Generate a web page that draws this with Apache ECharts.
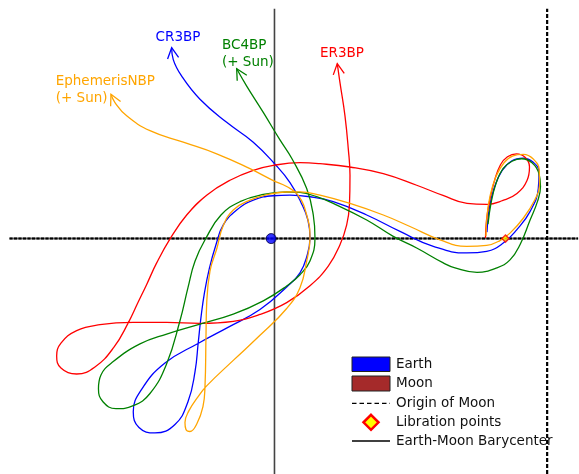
<!DOCTYPE html>
<html>
<head>
<meta charset="utf-8">
<script src="https://cdn.jsdelivr.net/npm/echarts@6/dist/echarts.min.js"></script>
<style>
html, body { margin: 0; padding: 0; background: #fff; }
#chart { width: 579px; height: 474px; }
</style>
</head>
<body>
<div id="chart"></div>
<script>
// Earth-Moon rotating frame, nondimensional units (Earth-Moon distance = 1)
const MU = 0.01215;
const earthPos = [[-MU, 0]];
const moonOriginX = 1 - MU;
const librationPoints = [[0.8369, 0]];

// Trajectories, from the lunar loop outwards
const cr3bp = [
  [0.7699,0.0236],[0.7772,0.1033],[0.7953,0.1830],[0.8243,0.2482],[0.8605,0.2844],[0.9004,0.2942],
  [0.9366,0.2797],[0.9583,0.2435],[0.9558,0.1830],[0.9257,0.0986],[0.8775,0.0319],[0.8290,-0.0163],
  [0.7688,-0.0464],[0.6964,-0.0525],[0.5754,-0.0283],[0.4547,0.0261],[0.3341,0.0862],[0.2130,0.1348],
  [0.1286,0.1529],[0.0562,0.1587],[-0.0043,0.1565],[-0.0768,0.1406],[-0.1370,0.1043],[-0.1855,0.0500],
  [-0.2120,-0.0225],[-0.2355,-0.1069],[-0.2536,-0.1975],[-0.2663,-0.2880],[-0.2761,-0.3786],[-0.2880,-0.4873],
  [-0.3134,-0.5960],[-0.3605,-0.6793],[-0.4330,-0.7101],[-0.4909,-0.6902],[-0.5116,-0.6322],[-0.4801,-0.5489],
  [-0.3967,-0.4547],[-0.2754,-0.3822],[-0.1685,-0.3243],[-0.0525,-0.2591],[0.0453,-0.1757],[0.0924,-0.1250],
  [0.1178,-0.0634],[0.1286,0.0018],[0.1214,0.0670],[0.0960,0.1322],[0.0562,0.2047],[0.0018,0.2717],
  [-0.0768,0.3522],[-0.1732,0.4246],[-0.2699,0.5091],[-0.3362,0.5935],[-0.3667,0.6540],[-0.3725,0.6975]
];
const bc4bp = [
  [0.7736,0.0525],[0.7844,0.1286],[0.8025,0.2011],[0.8279,0.2554],[0.8605,0.2826],[0.8957,0.2917],
  [0.9330,0.2772],[0.9583,0.2373],[0.9638,0.1902],[0.9529,0.1359],[0.9257,0.0670],[0.8895,-0.0225],
  [0.8533,-0.0779],[0.8062,-0.1069],[0.7337,-0.1232],[0.6540,-0.1069],[0.6116,-0.0888],[0.5152,-0.0344],
  [0.4304,0.0080],[0.3341,0.0681],[0.2130,0.1286],[0.1529,0.1529],[0.0924,0.1685],[0.0442,0.1703],
  [-0.0406,0.1612],[-0.1250,0.1348],[-0.1938,0.0862],[-0.2482,0.0018],[-0.2880,-0.0826],[-0.3134,-0.1793],
  [-0.3424,-0.3000],[-0.3906,-0.4572],[-0.4511,-0.5659],[-0.5116,-0.6105],[-0.5743,-0.6214],[-0.6214,-0.5960],
  [-0.6377,-0.5489],[-0.6286,-0.4982],[-0.5841,-0.4493],[-0.4873,-0.3848],[-0.3906,-0.3486],[-0.2699,-0.3123],
  [-0.1493,-0.2761],[-0.0406,-0.2275],[0.0442,-0.1732],[0.0924,-0.1322],[0.1286,-0.0815],[0.1467,0.0018],
  [0.1406,0.0862],[0.1167,0.1830],[0.0634,0.2917],[0.0199,0.3605],[-0.0406,0.4609],[-0.1007,0.5572],
  [-0.1370,0.6203]
];
const er3bp = [
  [0.7645,0.0018],[0.7681,0.0670],[0.7790,0.1359],[0.7971,0.2120],[0.8188,0.2699],[0.8442,0.2989],
  [0.8768,0.3098],[0.9076,0.2971],[0.9239,0.2627],[0.9149,0.2120],[0.8786,0.1649],[0.8279,0.1395],
  [0.7699,0.1250],[0.6975,0.1286],[0.6105,0.1576],[0.5152,0.1949],[0.3942,0.2373],[0.2736,0.2616],
  [0.1649,0.2736],[0.0924,0.2772],[-0.0043,0.2674],[-0.0768,0.2493],[-0.1612,0.2130],[-0.2457,0.1587],
  [-0.3181,0.0862],[-0.3768,0.0018],[-0.4268,-0.0888],[-0.4630,-0.1674],[-0.4946,-0.2337],[-0.5308,-0.3098],
  [-0.5815,-0.3967],[-0.6504,-0.4692],[-0.7167,-0.4946],[-0.7736,-0.4728],[-0.7891,-0.4293],[-0.7736,-0.3822],
  [-0.7167,-0.3362],[-0.6322,-0.3145],[-0.5116,-0.3062],[-0.3906,-0.3062],[-0.2699,-0.3098],[-0.1493,-0.3025],
  [-0.0525,-0.2772],[0.0442,-0.2337],[0.1286,-0.1721],[0.1949,-0.1007],[0.2373,-0.0225],[0.2616,0.0500],
  [0.2717,0.1250],[0.2736,0.2312],[0.2674,0.3279],[0.2554,0.4486],[0.2373,0.5696],[0.2275,0.6395]
];
const ephemeris = [
  [0.7663,0.0091],[0.7699,0.0815],[0.7808,0.1540],[0.8025,0.2264],[0.8315,0.2772],[0.8641,0.3025],
  [0.9014,0.3080],[0.9366,0.2917],[0.9594,0.2482],[0.9601,0.1938],[0.9438,0.1431],[0.9014,0.0743],
  [0.8533,0.0199],[0.8170,-0.0072],[0.7688,-0.0246],[0.6964,-0.0283],[0.5996,-0.0043],[0.4909,0.0442],
  [0.3942,0.0862],[0.2736,0.1286],[0.1649,0.1587],[0.0924,0.1710],[0.0380,0.1703],[-0.0236,0.1612],
  [-0.0888,0.1406],[-0.1493,0.1043],[-0.1866,0.0453],[-0.2083,-0.0344],[-0.2337,-0.1188],[-0.2457,-0.2399],
  [-0.2482,-0.3605],[-0.2518,-0.5417],[-0.2591,-0.6141],[-0.2808,-0.6757],[-0.3062,-0.7047],[-0.3207,-0.6975],
  [-0.3243,-0.6721],[-0.3098,-0.6286],[-0.2772,-0.5779],[-0.2457,-0.5380],[-0.1493,-0.4449],[-0.0525,-0.3533],
  [0.0442,-0.2554],[0.0924,-0.1793],[0.1167,-0.0826],[0.1286,0.0018],[0.1167,0.0862],[0.0862,0.1576],
  [0.0442,0.1902],[-0.0043,0.2120],[-0.0888,0.2554],[-0.2094,0.3098],[-0.3304,0.3522],[-0.4511,0.3942],
  [-0.5355,0.4486],[-0.5779,0.4971],[-0.5924,0.5272]
];

const X_MIN = -0.96, X_MAX = 1.1, Y_MIN = -0.86, Y_MAX = 0.84;
const FONT = 'DejaVu Sans';
const FS = 13.5;

const trajectories = [
  { name: 'CR3BP', data: cr3bp, color: '#0000ff' },
  { name: 'ER3BP', data: er3bp, color: '#ff0000' },
  { name: 'BC4BP', data: bc4bp, color: '#008000' },
  { name: 'EphemerisNBP', data: ephemeris, color: '#ffa500' }
];

function lineSeries(data, color, width, type, z) {
  return {
    type: 'line', data: data, showSymbol: false, silent: true, z: z,
    lineStyle: { color: color, width: width, type: type }
  };
}

// open "->" arrowhead at the final point of a trajectory
function arrowHead(pts, color) {
  const n = pts.length;
  const tip = pts[n - 1], prev = pts[n - 2];
  return {
    type: 'custom', coordinateSystem: 'cartesian2d', silent: true, z: 6,
    data: [[tip[0], tip[1], prev[0], prev[1]]],
    renderItem: function (params, api) {
      const t = api.coord([api.value(0), api.value(1)]);
      const p = api.coord([api.value(2), api.value(3)]);
      const ang = Math.atan2(t[1] - p[1], t[0] - p[0]);
      const L = 12, a = 0.48;
      const a1 = [t[0] - L * Math.cos(ang - a), t[1] - L * Math.sin(ang - a)];
      const a2 = [t[0] - L * Math.cos(ang + a), t[1] - L * Math.sin(ang + a)];
      return {
        type: 'polyline',
        shape: { points: [a1, t, a2] },
        style: { stroke: color, lineWidth: 1.3, fill: null }
      };
    }
  };
}

const series = [];
// Earth-Moon barycenter axes and lunar origin
series.push(lineSeries([[X_MIN, 0], [X_MAX, 0]], '#666', 2, 'solid', 1));
series.push(lineSeries([[X_MIN, 0], [X_MAX, 0]], '#000', 2, [3, 1.5], 2));
series.push(lineSeries([[0, Y_MIN], [0, Y_MAX]], '#444', 1.6, 'solid', 1));
series.push(lineSeries([[moonOriginX, Y_MIN], [moonOriginX, Y_MAX]], '#000', 2.2, [4, 2], 2));

trajectories.forEach(function (t, i) {
  const s = lineSeries(t.data, t.color, 1.3, 'solid', 3 + i * 0.1);
  s.smooth = 0.45;
  series.push(s);
  series.push(arrowHead(t.data, t.color));
});

series.push({
  type: 'scatter', data: earthPos, symbol: 'circle', symbolSize: 10, silent: true, z: 8,
  itemStyle: { color: '#0000ff', borderColor: '#000040', borderWidth: 1 }
});
series.push({
  type: 'scatter', data: librationPoints, symbol: 'diamond', symbolSize: 7, silent: true, z: 8,
  itemStyle: { color: '#ffff00', borderColor: '#ff0000', borderWidth: 1.5 }
});

function label(text, x, y, color, align) {
  return {
    type: 'text', x: x, y: y, z: 10,
    style: {
      text: text, fill: color, font: FS + 'px "' + FONT + '"',
      textAlign: align, textVerticalAlign: 'top', lineHeight: 16.6
    }
  };
}

const legendX = 352, legendW = 38, legendTextX = 396;
const legendItems = [
  { text: 'Earth', y: 364.3 },
  { text: 'Moon', y: 383.3 },
  { text: 'Origin of Moon', y: 403.3 },
  { text: 'Libration points', y: 422.3 },
  { text: 'Earth-Moon Barycenter', y: 441 }
];

const graphic = [
  label('CR3BP', 178, 28.7, '#0000ff', 'center'),
  label('BC4BP\n(+ Sun)', 222, 37.4, '#008000', 'left'),
  label('EphemerisNBP\n(+ Sun)', 55.7, 73.4, '#ffa500', 'left'),
  label('ER3BP', 342, 45, '#ff0000', 'center'),
  { type: 'rect', shape: { x: legendX, y: 357, width: legendW, height: 14.5 },
    style: { fill: '#0000ff', stroke: '#222', lineWidth: 1 }, z: 10 },
  { type: 'rect', shape: { x: legendX, y: 376, width: legendW, height: 15 },
    style: { fill: '#a52a2a', stroke: '#222', lineWidth: 1 }, z: 10 },
  { type: 'line', shape: { x1: legendX, y1: 403.3, x2: legendX + legendW, y2: 403.3 },
    style: { stroke: '#000', lineWidth: 1.3, lineDash: [4.5, 3] }, z: 10 },
  { type: 'polygon', shape: { points: [[371, 414.8], [378.5, 422.3], [371, 429.8], [363.5, 422.3]] },
    style: { fill: '#ffff00', stroke: '#ff0000', lineWidth: 2.5 }, z: 10 },
  { type: 'line', shape: { x1: legendX, y1: 441, x2: legendX + legendW, y2: 441 },
    style: { stroke: '#000', lineWidth: 1.3 }, z: 10 }
];
legendItems.forEach(function (it) {
  graphic.push({
    type: 'text', x: legendTextX, y: it.y, z: 10,
    style: { text: it.text, fill: '#111', font: FS + 'px "' + FONT + '"',
      textAlign: 'left', textVerticalAlign: 'middle' }
  });
});

const chart = echarts.init(document.getElementById('chart'), null, { renderer: 'canvas' });
chart.setOption({
  animation: false,
  backgroundColor: '#fff',
  grid: { left: 9.5, top: 8.66, width: 568.6, height: 469.2, containLabel: false },
  xAxis: { type: 'value', min: X_MIN, max: X_MAX, show: false },
  yAxis: { type: 'value', min: Y_MIN, max: Y_MAX, show: false },
  series: series,
  graphic: graphic
});
</script>
</body>
</html>
